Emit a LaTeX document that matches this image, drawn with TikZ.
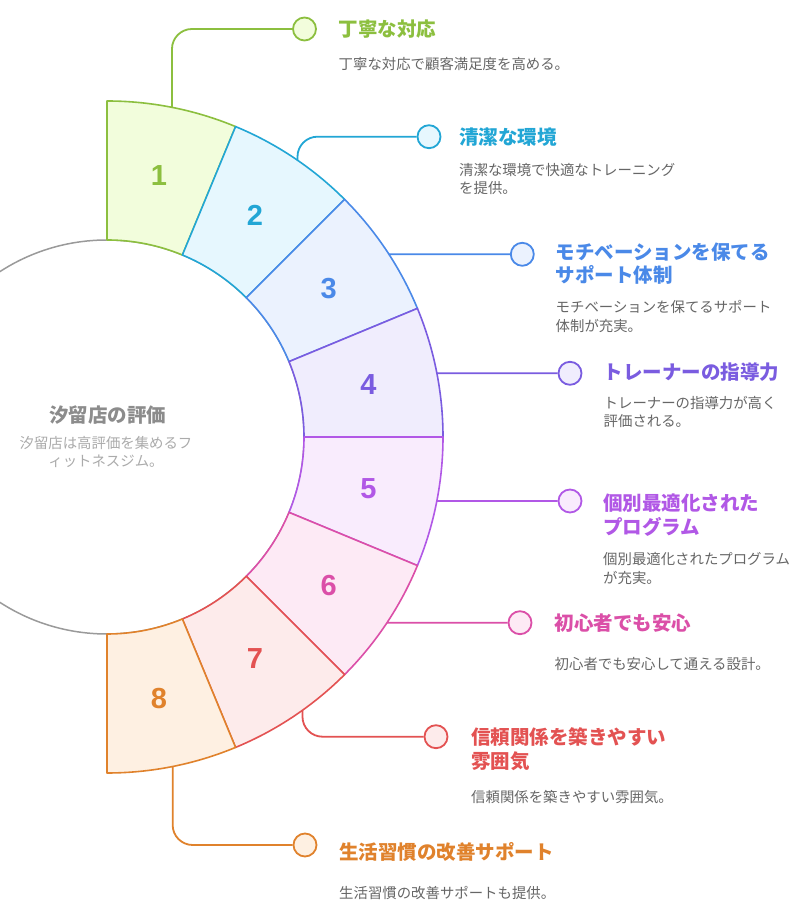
\documentclass[tikz,border=0pt]{standalone}
\usepackage{fontspec}
\newfontfamily\jp{Noto Sans CJK JP}
\newfontfamily\numfont{Liberation Sans}
\definecolor{c1}{HTML}{8CBF3F}\definecolor{f1}{HTML}{F2FDDC}
\definecolor{c2}{HTML}{22A6D5}\definecolor{f2}{HTML}{E6F7FE}
\definecolor{c3}{HTML}{4A89E8}\definecolor{f3}{HTML}{EBF2FE}
\definecolor{c4}{HTML}{7A5CE0}\definecolor{f4}{HTML}{F0EDFD}
\definecolor{c5}{HTML}{B158E6}\definecolor{f5}{HTML}{F9ECFD}
\definecolor{c6}{HTML}{DB4FA8}\definecolor{f6}{HTML}{FDEAF5}
\definecolor{c7}{HTML}{E35252}\definecolor{f7}{HTML}{FDEBEB}
\definecolor{c8}{HTML}{E0822C}\definecolor{f8}{HTML}{FEF0E2}
\definecolor{descgray}{HTML}{666666}
\definecolor{hubgray}{HTML}{9A9A9A}
\definecolor{hubtitle}{HTML}{8C8C8C}
\definecolor{hubdesc}{HTML}{ABABAB}
\newcommand\ringseg[4]{%
  \path[segline, draw=#1, fill=#2] (#3:197) -- (#3:336)
    arc[start angle=#3, end angle=#4, radius=336pt] -- (#4:197)
    arc[start angle=#4, end angle=#3, radius=197pt] -- cycle;}
\begin{document}
\begin{tikzpicture}[x=1pt,y=1pt,
  segline/.style={line width=1.6pt, line join=round},
  lead/.style={line width=1.8pt, rounded corners=20pt},
  dotm/.style={circle, minimum size=23pt, inner sep=0pt, line width=1.8pt},
  ttl/.style={anchor=base west, inner sep=0pt, font=\jp\bfseries\fontsize{19.5}{23.5}\selectfont, align=left},
  dsc/.style={anchor=base west, inner sep=0pt, font=\jp\fontsize{14.4}{18.3}\selectfont, text=descgray, align=left},
  num/.style={font=\numfont\bfseries\fontsize{29}{29}\selectfont, inner sep=0pt}]
\useasboundingbox (0,0) rectangle (810,905);
\clip (0,0) rectangle (810,905);
\fill[white] (0,0) rectangle (810,905);
% hub
\node[circle, minimum size=394pt, inner sep=0pt, draw=hubgray, line width=1.5pt, fill=white] (hub) at (107,468) {};
\node[anchor=base, inner sep=0pt, font=\jp\bfseries\fontsize{19.5}{23.5}\selectfont, text=hubtitle] (hubt) at (107.5,482.6) {汐留店の評価};
\node[anchor=base, inner sep=0pt, font=\jp\fontsize{14.4}{17.7}\selectfont, text=hubdesc, align=center] (hubd) at (106,438.5) {汐留店は高評価を集めるフ\\ィットネスジム。};
% ring
\begin{scope}[shift={(107,468)}]
\ringseg{c1}{f1}{90}{67.5}
\ringseg{c2}{f2}{67.5}{45}
\ringseg{c3}{f3}{45}{22.5}
\ringseg{c4}{f4}{22.5}{0}
\ringseg{c5}{f5}{0}{-22.5}
\ringseg{c6}{f6}{-22.5}{-45}
\ringseg{c7}{f7}{-45}{-67.5}
\ringseg{c8}{f8}{-67.5}{-90}
\node[num, text=c1] (n1) at (78.75:266.5) {1};
\node[num, text=c2] (n2) at (56.25:266.5) {2};
\node[num, text=c3] (n3) at (33.75:266.5) {3};
\node[num, text=c4] (n4) at (11.25:266.5) {4};
\node[num, text=c5] (n5) at (-11.25:266.5) {5};
\node[num, text=c6] (n6) at (-33.75:266.5) {6};
\node[num, text=c7] (n7) at (-56.25:266.5) {7};
\node[num, text=c8] (n8) at (-78.75:266.5) {8};
\coordinate (p1) at (78.85:336);
\coordinate (p2) at (55.46:336);
\coordinate (p3) at (32.94:336);
\coordinate (p4) at (10.93:336);
\coordinate (p5) at (-10.98:336);
\coordinate (p6) at (-33.55:336);
\coordinate (p7) at (-54.42:336);
\coordinate (p8) at (-78.73:336);
\end{scope}
% markers
\node[dotm, draw=c1, fill=f1] (m1) at (304.5,876) {};
\node[dotm, draw=c2, fill=f2] (m2) at (429,768.3) {};
\node[dotm, draw=c3, fill=f3] (m3) at (522.3,650.7) {};
\node[dotm, draw=c4, fill=f4] (m4) at (570,531.7) {};
\node[dotm, draw=c5, fill=f5] (m5) at (570,404) {};
\node[dotm, draw=c6, fill=f6] (m6) at (520,282.3) {};
\node[dotm, draw=c7, fill=f7] (m7) at (436,168.3) {};
\node[dotm, draw=c8, fill=f8] (m8) at (305,60) {};
% leaders
\draw[lead, c1] (p1) |- (m1.west);
\draw[lead, c2] (p2) |- (m2.west);
\draw[lead, c3] (p3) -- (m3.west);
\draw[lead, c4] (p4) -- (m4.west);
\draw[lead, c5] (p5) -- (m5.west);
\draw[lead, c6] (p6) -- (m6.west);
\draw[lead, c7] (p7) |- (m7.west);
\draw[lead, c8] (p8) |- (m8.west);
% titles (multi-line nodes: base = last line)
\node[ttl, text=c1] (t1) at (338.5,868.6) {丁寧な対応};
\node[ttl, text=c2] (t2) at (459,760.9) {清潔な環境};
\node[ttl, text=c3] (t3) at (555.5,622.4) {モチベーションを保てる\\サポート体制};
\node[ttl, text=c4] (t4) at (603.5,525.6) {トレーナーの指導力};
\node[ttl, text=c5] (t5) at (603,370.8) {個別最適化された\\プログラム};
\node[ttl, text=c6] (t6) at (554.5,274.9) {初心者でも安心};
\node[ttl, text=c7, font=\jp\bfseries\fontsize{19.5}{24.5}\selectfont] (t7) at (471,136.4) {信頼関係を築きやすい\\雰囲気};
\node[ttl, text=c8] (t8) at (339,45.9) {生活習慣の改善サポート};
% descriptions
\node[dsc] (d1) at (338.5,835.5) {丁寧な対応で顧客満足度を高める。};
\node[dsc] (d2) at (459,711.2) {清潔な環境で快適なトレーニング\\を提供。};
\node[dsc] (d3) at (555.5,573.9) {モチベーションを保てるサポート\\体制が充実。};
\node[dsc] (d4) at (603.5,478.5) {トレーナーの指導力が高く\\評価される。};
\node[dsc] (d5) at (603,321.9) {個別最適化されたプログラム\\が充実。};
\node[dsc] (d6) at (554.5,235.5) {初心者でも安心して通える設計。};
\node[dsc] (d7) at (471,102.2) {信頼関係を築きやすい雰囲気。};
\node[dsc] (d8) at (339,6.2) {生活習慣の改善サポートも提供。};
\end{tikzpicture}
\end{document}
